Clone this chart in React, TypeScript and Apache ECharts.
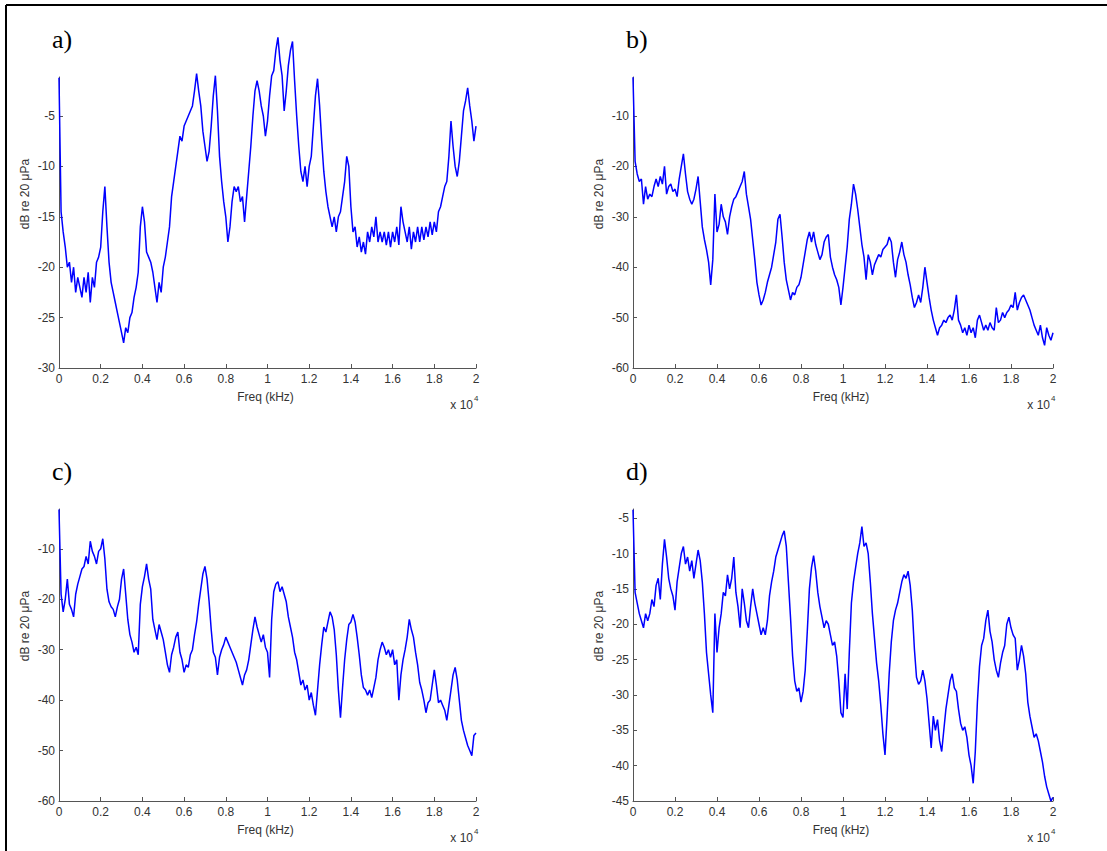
import React, { useEffect, useRef } from "react";
import * as echarts from "echarts";

// frequency step of the spectra (Hz); point i is at i * FREQ_STEP
const FREQ_STEP = 100;

// panel a) dB re 20 µPa, 0..20000 Hz
const levelsA = [
  -1.2, -14.5, -16.5, -18, -20, -19.5, -21.5, -20, -22.5, -21,
  -22, -23, -21, -22.5, -20.5, -23.5, -21, -22, -19.5, -19,
  -18, -14.5, -12, -16, -19.5, -21.5, -22.5, -23.5, -24.5, -25.5,
  -26.5, -27.5, -26, -26.5, -25, -24.5, -23, -22, -20.5, -16,
  -14, -15.5, -18.5, -19, -19.5, -20.5, -22, -23.5, -21.5, -22.5,
  -20, -19, -17.5, -16, -13, -11.5, -10, -8.5, -7, -7.5,
  -6, -5.5, -5, -4.5, -4, -2.5, -0.8, -2.5, -4, -6.5,
  -8, -9.5, -8.5, -6, -3, -1, -4.5, -9, -11.5, -13.5,
  -15, -17.5, -16, -13.5, -12, -12.5, -12, -13.5, -13, -15.5,
  -13, -10.5, -8, -5, -2.5, -1.5, -2.5, -4, -5, -7,
  -5.5, -3, -1, -0.5, 1.5, 2.8, 0.5, -1, -4.5, -2.5,
  0, 1.5, 2.4, -1.5, -5, -8, -10.5, -11.5, -10, -12,
  -10, -9, -6, -3, -1.3, -4, -7.5, -10.5, -12.5, -14,
  -15, -16, -15, -16.5, -15, -14.5, -13, -11.5, -9, -10,
  -14, -16.5, -16, -18, -17, -18.5, -17.5, -18.7, -16.5, -17.5,
  -16, -17, -15, -17.5, -16.5, -17.5, -16.5, -17.8, -16.5, -18,
  -16.5, -17.5, -16, -17.8, -14, -15.5, -16.5, -17.5, -16, -18.2,
  -16.5, -17.5, -16, -17.5, -16, -17.3, -16, -17, -15.5, -16.8,
  -15.5, -16.5, -14.5, -14, -13, -12, -11.5, -9, -5.5, -8,
  -10, -11, -9.5, -7, -4.5, -3.5, -2.2, -4, -5.5, -7.5,
  -6,
];

// panel b)
const levelsB = [
  -2.3, -19, -21.5, -23, -22.5, -27.5, -24, -26.5, -25.5, -26,
  -24, -22.5, -24, -22, -23.5, -20, -25.5, -24, -23.5, -25,
  -24.5, -26, -22.5, -20, -17.5, -21.5, -25, -26.5, -27.5, -26.5,
  -24.5, -22, -27, -32, -34.5, -36.5, -39, -43.5, -38.5, -25.5,
  -33, -31.5, -27.5, -30, -31, -33.5, -30, -28, -26.5, -26,
  -25, -24, -23, -21, -25.5, -28, -30.5, -34.5, -38.5, -43,
  -45.5, -47.5, -46.5, -45, -43, -41.5, -40, -37.5, -35, -30.5,
  -29.5, -34, -39, -42.5, -44.5, -46.5, -45, -45.5, -44, -43.5,
  -42, -39.5, -37, -34.5, -33, -35, -33, -35.5, -37, -38.5,
  -37.5, -35, -34, -33.5, -38, -40, -41.5, -42.5, -44, -47.5,
  -44, -40, -36, -30.5, -27.5, -23.5, -25.5, -28.5, -32, -35.5,
  -38, -42.5, -37.5, -39, -41.5, -39.5, -38.5, -37.5, -38, -36.5,
  -36, -35.5, -34, -35, -39, -42, -38.5, -37, -35, -37.5,
  -39, -41.5, -43.5, -46, -48, -47, -45.5, -47, -44, -40,
  -43, -46, -48.5, -50.5, -52, -53.5, -52, -51.5, -50.5, -51,
  -50, -49.5, -50.5, -48.5, -45.5, -50.5, -51.5, -53, -52, -53.5,
  -51.5, -53, -52, -54, -50.5, -49.5, -51, -52.5, -51.5, -52.5,
  -51, -52, -52.5, -48, -51, -50.5, -49, -50, -49, -48.5,
  -47.5, -48, -45, -48.5, -47, -46, -45.5, -46.5, -47.5, -48.5,
  -50, -51.5, -52.5, -53.5, -51.5, -54, -55.5, -52, -53.5, -54.5,
  -53,
];

// panel c)
const levelsC = [
  -2.2, -19, -22.5, -20, -16, -21, -22, -23.5, -19, -17,
  -15.5, -14, -13.5, -11.5, -13, -8.5, -10.5, -11.5, -13, -10.5,
  -10, -8, -12, -18, -20.5, -21.5, -22, -23.5, -21.5, -20,
  -16, -14, -19, -24, -27, -28.5, -30.5, -29.5, -31, -21,
  -17.5, -15.5, -13, -16, -18, -24, -26, -28, -25, -26.5,
  -28, -30.5, -33, -34.5, -31, -29.5, -27.5, -26.5, -30.5, -32,
  -34.5, -33, -33.5, -31, -30, -27, -24.5, -21, -18, -15,
  -13.5, -16, -20.5, -26, -30.5, -31.5, -35, -31.5, -30, -29,
  -27.5, -28.5, -29.5, -30.5, -31.5, -32.5, -34, -35.5, -37, -35,
  -34, -32, -29, -26, -23.5, -25.5, -27, -28.5, -27, -29.5,
  -30.5, -35.5, -24, -18.5, -17, -16.5, -18.5, -17.5, -19, -20.5,
  -23.5, -25.5, -27.5, -30.5, -32, -34.5, -37, -36, -38, -37,
  -40, -38.5, -41, -43, -38, -33, -29, -25.5, -26.5, -24.5,
  -22.5, -23.5, -26, -31, -38, -43.5, -37.5, -32, -28, -25,
  -24.5, -23, -24.5, -27.5, -31, -35, -37.5, -38, -39, -38,
  -39.5, -37.5, -35.5, -32, -30, -28.5, -29.5, -31, -30, -31.5,
  -30, -33, -32, -40, -35, -32, -30, -27.5, -24, -26,
  -27.5, -30.5, -33, -36.5, -38, -40, -42.5, -40.5, -40, -37,
  -34, -37, -40.5, -40, -41, -42, -44, -41, -38, -35,
  -33.5, -36, -40, -44, -46, -47.5, -49, -50, -51, -47,
  -46.5,
];

// panel d)
const levelsD = [
  -3.8, -15.5, -17, -18.5, -19.5, -20.5, -18.5, -19.5, -18.5, -16.5,
  -17.5, -14.5, -13.5, -16.5, -11.5, -8, -10.5, -13.5, -15, -16,
  -18, -14, -12, -10, -9, -11.5, -10.5, -12.5, -11, -13.5,
  -11.5, -9.5, -11, -14, -18.5, -24, -27, -30, -32.5, -18.5,
  -24, -20.5, -18.5, -15.5, -16, -13, -15, -13.5, -10.5, -15.5,
  -17.5, -20.5, -15, -17, -19.5, -20.5, -17.5, -15, -17, -18.5,
  -20, -21.5, -20.5, -21.5, -19.5, -16, -14, -12.5, -10.5, -9.5,
  -8.5, -7.5, -6.8, -9, -14, -19, -24.5, -28, -29.5, -29,
  -31, -29.5, -26.5, -21, -15, -12, -10.3, -12.5, -15.5, -17.5,
  -19, -20.5, -19.5, -20, -21.5, -23, -22.5, -24.5, -28, -32.5,
  -33.2, -27, -32, -24, -17, -14, -12, -10, -8.5, -6.2,
  -9, -8.5, -10, -14, -18.5, -22, -25.5, -28, -31.5, -35.5,
  -38.5, -33, -27, -22.5, -19.5, -18, -17, -15.5, -14, -13,
  -13.5, -12.5, -14.5, -18, -23.5, -27.5, -28.5, -28, -26.5, -28,
  -30.5, -34, -37.5, -33, -35, -33.5, -36.5, -38, -35, -32,
  -30, -28, -27, -29, -29.5, -32, -34, -35, -34.5, -36,
  -38.5, -40, -42.5, -38, -31, -26, -23, -22, -19.5, -18,
  -21, -22.5, -25, -26.5, -27.5, -25.5, -24, -23, -20, -19,
  -20.5, -21.5, -22, -26.5, -25, -23, -24.5, -27, -31, -33,
  -34.5, -36, -35.5, -36.5, -38, -39.5, -41.5, -43, -44, -45,
  -44.5,
];

// axis ranges and tick labels for each panel
const yTicksA = [-30, -25, -20, -15, -10, -5];
const yTicksB = [-60, -50, -40, -30, -20, -10];
const yTicksC = [-60, -50, -40, -30, -20, -10];
const yTicksD = [-45, -40, -35, -30, -25, -20, -15, -10, -5];
const yMax = [-1.13, -2.26, -2.1, -3.7];
const panelLetters = ["a)", "b)", "c)", "d)"];
const xLabel = "Freq (kHz)";
const yLabel = "dB re 20 \u03bcPa";

const AXIS_COLOR = "#555";
const TEXT_COLOR = "#333";
const SANS = "'Liberation Sans', Arial, sans-serif";
const SERIF = "'Liberation Serif', 'Times New Roman', serif";

const grids = [
  { left: 59, top: 77, width: 417, height: 291 },
  { left: 633, top: 77, width: 420, height: 291 },
  { left: 59, top: 509, width: 417, height: 292 },
  { left: 633, top: 509, width: 420, height: 292 },
];

function toPairs(vals: number[]) {
  return vals.map((v, i) => [i * FREQ_STEP, v]);
}

export default function App() {
  const ref = useRef<HTMLDivElement>(null);
  useEffect(() => {
    if (!ref.current) return;
    const chart = echarts.init(ref.current, null, { renderer: "svg" });
    const levels = [levelsA, levelsB, levelsC, levelsD];
    const ticks = [yTicksA, yTicksB, yTicksC, yTicksD];

    const xAxis = grids.map((_, k) => ({
      type: "value",
      gridIndex: k,
      min: 0,
      max: 20000,
      interval: 2000,
      axisLine: { show: true, lineStyle: { color: AXIS_COLOR, width: 1 } },
      axisTick: { show: true, inside: true, length: 4, lineStyle: { color: AXIS_COLOR } },
      axisLabel: {
        color: TEXT_COLOR,
        fontFamily: SANS,
        fontSize: 12,
        margin: 5,
        formatter: (v: number) => String(Math.round(v / 1000) / 10),
      },
      splitLine: { show: false },
    }));

    const yAxis = grids.map((_, k) => {
      const t = ticks[k];
      const step = t[1] - t[0];
      return {
        type: "value",
        gridIndex: k,
        min: t[0],
        max: yMax[k],
        interval: step,
        axisLine: { show: true, onZero: false, lineStyle: { color: AXIS_COLOR, width: 1 } },
        axisTick: { show: true, inside: true, length: 4, customValues: t, lineStyle: { color: AXIS_COLOR } },
        axisLabel: {
          color: TEXT_COLOR,
          fontFamily: SANS,
          fontSize: 12,
          margin: 4,
          customValues: t,
        },
        splitLine: { show: false },
      };
    });

    const series = levels.map((vals, k) => ({
      type: "line",
      xAxisIndex: k,
      yAxisIndex: k,
      data: toPairs(vals),
      showSymbol: false,
      clip: false,
      lineStyle: { color: "#0000ff", width: 1.5 },
      itemStyle: { color: "#0000ff" },
    }));

    const graphics: any[] = [
      { type: "line", shape: { x1: 6, y1: 5, x2: 1107, y2: 5 }, style: { stroke: "#000", lineWidth: 2 } },
      { type: "line", shape: { x1: 6, y1: 5, x2: 6, y2: 851 }, style: { stroke: "#000", lineWidth: 2 } },
    ];
    grids.forEach((g, k) => {
      const yMid = g.top + 117;
      graphics.push({
        type: "text",
        x: g.left - 7,
        y: g.top - 38,
        style: { text: panelLetters[k], font: `26px ${SERIF}`, fill: "#000", textAlign: "left", textVerticalAlign: "middle" },
      });
      graphics.push({
        type: "text",
        x: g.left - 34,
        y: yMid,
        rotation: Math.PI / 2,
        style: { text: yLabel, font: `12px ${SANS}`, fill: TEXT_COLOR, textAlign: "center", textVerticalAlign: "middle" },
      });
      graphics.push({
        type: "text",
        x: g.left + g.width / 2 - 2,
        y: g.top + g.height + 29,
        style: { text: xLabel, font: `12px ${SANS}`, fill: TEXT_COLOR, textAlign: "center", textVerticalAlign: "middle" },
      });
      graphics.push({
        type: "text",
        x: g.left + g.width - 3,
        y: g.top + g.height + 37,
        style: { text: "x 10", font: `12px ${SANS}`, fill: TEXT_COLOR, textAlign: "right", textVerticalAlign: "middle" },
      });
      graphics.push({
        type: "text",
        x: g.left + g.width - 2,
        y: g.top + g.height + 30,
        style: { text: "4", font: `8px ${SANS}`, fill: TEXT_COLOR, textAlign: "left", textVerticalAlign: "middle" },
      });
    });

    chart.setOption({
      animation: false,
      backgroundColor: "#fff",
      grid: grids.map((g) => ({ ...g, containLabel: false })),
      xAxis,
      yAxis,
      series,
      graphic: graphics,
    });
    return () => chart.dispose();
  }, []);

  return (
    <div
      ref={ref}
      style={{ position: "absolute", left: 0, top: 0, width: 1107, height: 851 }}
    />
  );
}
